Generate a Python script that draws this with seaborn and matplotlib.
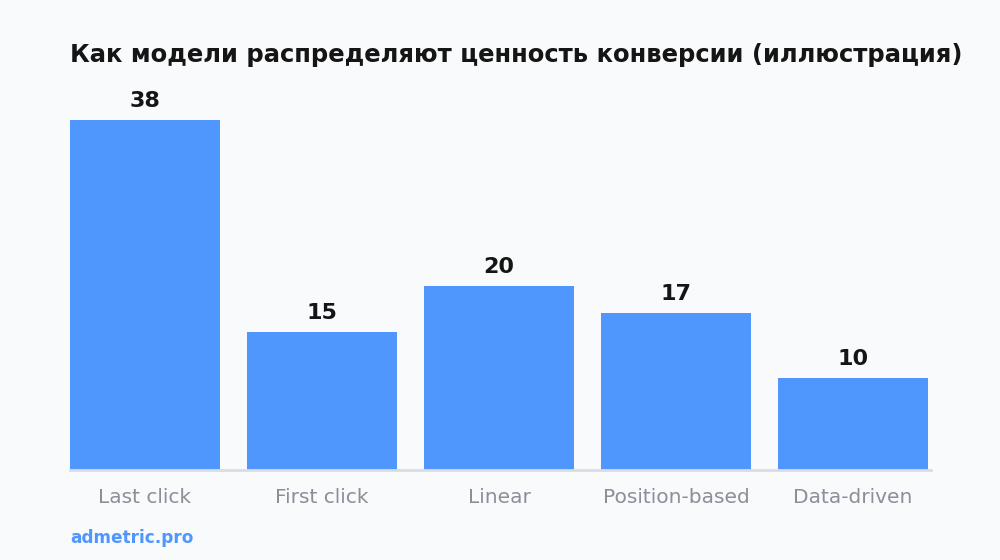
import matplotlib
matplotlib.use("Agg")
import matplotlib.pyplot as plt
import seaborn as sns
import pandas as pd

categories = ["Last click", "First click", "Linear", "Position-based", "Data-driven"]
values = [38, 15, 20, 17, 10]
title = "Как модели распределяют ценность конверсии (иллюстрация)"
source = "admetric.pro"

BG = "#f8fafc"
BAR = "#4f97fd"

sns.set_theme(style="white")
plt.rcParams["font.family"] = ["DejaVu Sans"]

df = pd.DataFrame({"model": categories, "value": values})

fig = plt.figure(figsize=(10, 5.6), dpi=100, facecolor=BG)
ax = fig.add_axes([0.070, 90 / 560, 0.861, 350 / 560])
ax.set_facecolor(BG)

sns.barplot(data=df, x="model", y="value", color=BAR, width=0.847,
            saturation=1, ax=ax, edgecolor="none")

ax.set_ylim(0, 38)
ax.set_xlim(-0.4237, 4.44)
for s in ["top", "right", "left"]:
    ax.spines[s].set_visible(False)
ax.spines["bottom"].set_color("#d9dde3")
ax.spines["bottom"].set_linewidth(2)
ax.set_yticks([])
ax.set_xlabel("")
ax.set_ylabel("")
ax.tick_params(axis="x", length=0, pad=13, labelsize=14.5, labelcolor="#8a8f98")

for i, v in enumerate(values):
    ax.text(i, v + 1.0, str(v), ha="center", va="bottom", fontsize=16,
            fontweight="bold", color="#151515", clip_on=False)

fig.text(0.070, 1 - 55 / 560, title, ha="left", va="center", fontsize=17.5,
         fontweight="bold", color="#151515")
fig.text(0.070, 1 - 538 / 560, source, ha="left", va="center", fontsize=12.2,
         fontweight="bold", color=BAR)

fig.savefig("out.png", dpi=100, facecolor=BG)
